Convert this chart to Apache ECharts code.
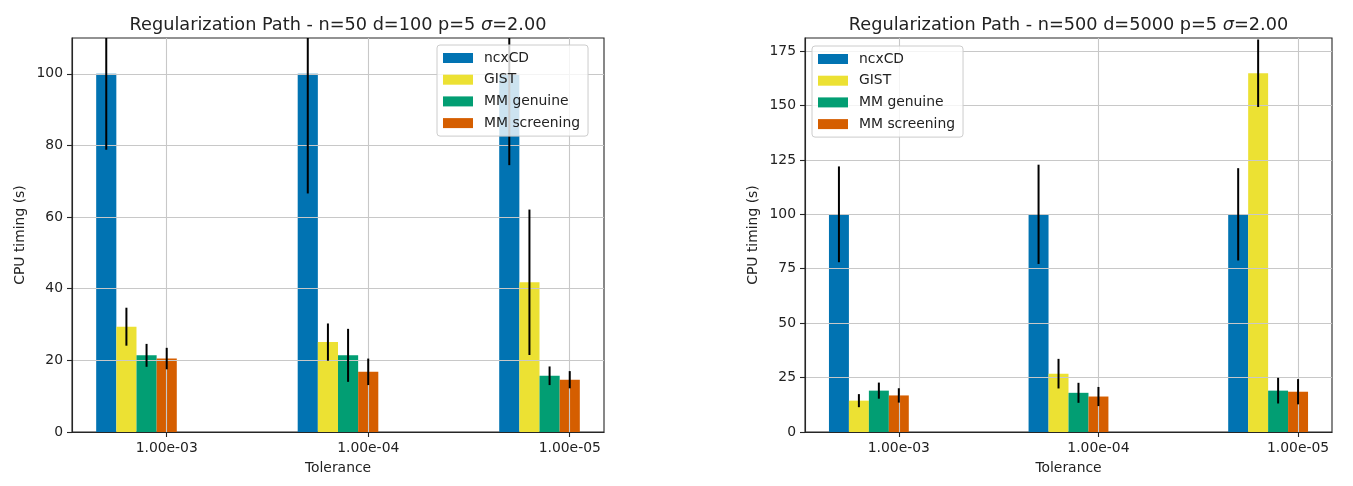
<!DOCTYPE html>
<html><head><meta charset="utf-8">
<script src="https://cdn.jsdelivr.net/npm/echarts@6/dist/echarts.min.js"></script>
<style>html,body{margin:0;padding:0;background:#fff}#c{width:1353px;height:486px}</style>
</head><body><div id="c"></div>
<script>
// ---- data ----
const tolerances = ['1.00e-03', '1.00e-04', '1.00e-05'];
const methods = ['ncxCD', 'GIST', 'MM genuine', 'MM screening'];
const titleLeftMain = 'Regularization Path - n=50 d=100 p=5 ';
const titleRightMain = 'Regularization Path - n=500 d=5000 p=5 ';
const titleSigma = 'σ';
const titleSigmaVal = '=2.00';
const yAxisName = 'CPU timing (s)';
const xAxisName = 'Tolerance';

// left chart (n=50 d=100)
const leftNcxCD = [100, 100, 100];
const leftNcxCDErr = [21.2, 33.4, 25.5];
const leftGIST = [29.4, 25.1, 41.8];
const leftGISTErr = [5.3, 5.2, 20.3];
const leftMMGenuine = [21.4, 21.4, 15.7];
const leftMMGenuineErr = [3.2, 7.4, 2.6];
const leftMMScreening = [20.5, 16.8, 14.6];
const leftMMScreeningErr = [3.0, 3.7, 2.4];
const leftYTicks = [0, 20, 40, 60, 80, 100];

// right chart (n=500 d=5000)
const rightNcxCD = [100, 100, 100];
const rightNcxCDErr = [22.0, 22.8, 21.2];
const rightGIST = [14.4, 26.8, 164.8];
const rightGISTErr = [3.0, 6.8, 15.5];
const rightMMGenuine = [19.0, 18.0, 19.0];
const rightMMGenuineErr = [3.7, 4.6, 5.9];
const rightMMScreening = [16.8, 16.3, 18.5];
const rightMMScreeningErr = [3.3, 4.4, 5.8];
const rightYTicks = [0, 25, 50, 75, 100, 125, 150, 175];

// ---- styling / layout ----
const colors = ['#0173B2', '#ECE133', '#029E73', '#D55E00'];
const FONT = 'DejaVu Sans';
const FS = 13.9;
const TXT = '#222';
const tickIdx = tolerances.map((t, k) => k);
const barW = 0.1;

const charts = [
  { vals: [leftNcxCD, leftGIST, leftMMGenuine, leftMMScreening],
    errs: [leftNcxCDErr, leftGISTErr, leftMMGenuineErr, leftMMScreeningErr],
    yTicks: leftYTicks, yMax: 110, grid: { left: 72, top: 38, width: 532, height: 394 },
    title: titleLeftMain, legendPos: { left: 437, top: 45 } },
  { vals: [rightNcxCD, rightGIST, rightMMGenuine, rightMMScreening],
    errs: [rightNcxCDErr, rightGISTErr, rightMMGenuineErr, rightMMScreeningErr],
    yTicks: rightYTicks, yMax: 181, grid: { left: 805, top: 38, width: 527, height: 394 },
    title: titleRightMain, legendPos: { left: 812, top: 46 } }
];

function barRenderer(j) {
  const off = (j - 3) * barW;
  return function (params, api) {
    const k = api.value(0), v = api.value(1);
    const p0 = api.coord([k + off - barW / 2, v]);
    const p1 = api.coord([k + off + barW / 2, 0]);
    return { type: 'rect', shape: { x: p0[0], y: p0[1], width: p1[0] - p0[0], height: p1[1] - p0[1] },
             style: { fill: api.visual('color') } };
  };
}
function errRenderer(j) {
  const off = (j - 3) * barW;
  return function (params, api) {
    const k = api.value(0), v = api.value(1), e = api.value(2);
    const cs = params.coordSys;
    const a = api.coord([k + off, v - e]);
    const b = api.coord([k + off, v + e]);
    const yTop = Math.max(b[1], cs.y), yBot = Math.min(a[1], cs.y + cs.height);
    return { type: 'line', shape: { x1: a[0], y1: yBot, x2: a[0], y2: yTop },
             style: { stroke: '#000', lineWidth: 2 } };
  };
}

const option = { animation: false, grid: [], xAxis: [], yAxis: [], series: [], title: [], legend: [] };

charts.forEach((c, g) => {
  option.grid.push(Object.assign({ show: true, borderColor: '#262626', borderWidth: 1.1, backgroundColor: 'transparent' }, c.grid));
  option.xAxis.push({
    type: 'value', gridIndex: g, min: -0.47, max: 2.17, z: 3,
    name: xAxisName, nameLocation: 'middle', nameGap: 29,
    nameTextStyle: { fontFamily: FONT, fontSize: FS, color: TXT },
    axisLine: { show: true, onZero: false, lineStyle: { color: '#262626', width: 1.1 } },
    axisTick: { show: true, customValues: tickIdx, length: 5, lineStyle: { color: '#262626', width: 1.1 } },
    axisLabel: { customValues: tickIdx, margin: 9, fontFamily: FONT, fontSize: FS, color: TXT,
                 formatter: v => tolerances[Math.round(v)] },
    splitLine: { show: true, lineStyle: { color: '#c8c8c8', width: 1.1 } }
  });
  option.yAxis.push({
    type: 'value', gridIndex: g, min: 0, max: c.yMax, z: 3,
    name: yAxisName, nameLocation: 'middle', nameGap: 45,
    nameTextStyle: { fontFamily: FONT, fontSize: FS, color: TXT },
    axisLine: { show: true, onZero: false, lineStyle: { color: '#262626', width: 1.1 } },
    axisTick: { show: true, customValues: c.yTicks, length: 5, lineStyle: { color: '#262626', width: 1.1 } },
    axisLabel: { customValues: c.yTicks, margin: 9, fontFamily: FONT, fontSize: FS, color: TXT },
    splitLine: { show: true, lineStyle: { color: '#c8c8c8', width: 1.1 } }
  });
  option.title.push({
    text: '{a|' + c.title + '}{i|' + titleSigma + '}{a|' + titleSigmaVal + '}',
    left: c.grid.left + c.grid.width / 2 - 5, textAlign: 'center', top: 11,
    textStyle: { fontWeight: 'normal', rich: {
      a: { fontFamily: FONT, fontSize: 17.7, fontWeight: 'normal', color: TXT },
      i: { fontFamily: FONT, fontSize: 17.7, fontWeight: 'normal', fontStyle: 'italic', color: TXT } } }
  });
  option.legend.push(Object.assign({
    orient: 'vertical', data: methods.map((m, j) => ({ name: m, itemStyle: { color: colors[j] } })),
    icon: 'rect', itemWidth: 30, itemHeight: 10, itemGap: 7.7, padding: [6, 8, 6, 6], z: 6,
    backgroundColor: 'rgba(255,255,255,0.8)', borderColor: '#cccccc', borderWidth: 1, borderRadius: 3,
    textStyle: { fontFamily: FONT, fontSize: FS, color: TXT, lineHeight: 14, padding: [0, 0, 0, 6] },
    selectedMode: false
  }, c.legendPos));
  methods.forEach((m, j) => {
    option.series.push({
      type: 'custom', name: m, xAxisIndex: g, yAxisIndex: g, z: 2, clip: true,
      itemStyle: { color: colors[j] },
      data: tolerances.map((t, k) => [k, c.vals[j][k], c.errs[j][k]]),
      renderItem: barRenderer(j)
    });
  });
});
charts.forEach((c, g) => {
  methods.forEach((m, j) => {
    option.series.push({
      type: 'custom', name: m + ' error', xAxisIndex: g, yAxisIndex: g, z: 5, silent: true,
      itemStyle: { color: '#000' },
      data: tolerances.map((t, k) => [k, c.vals[j][k], c.errs[j][k]]),
      renderItem: errRenderer(j)
    });
  });
});

const chart = echarts.init(document.getElementById('c'), null, { renderer: 'canvas' });
chart.setOption(option);
</script>
</body></html>
